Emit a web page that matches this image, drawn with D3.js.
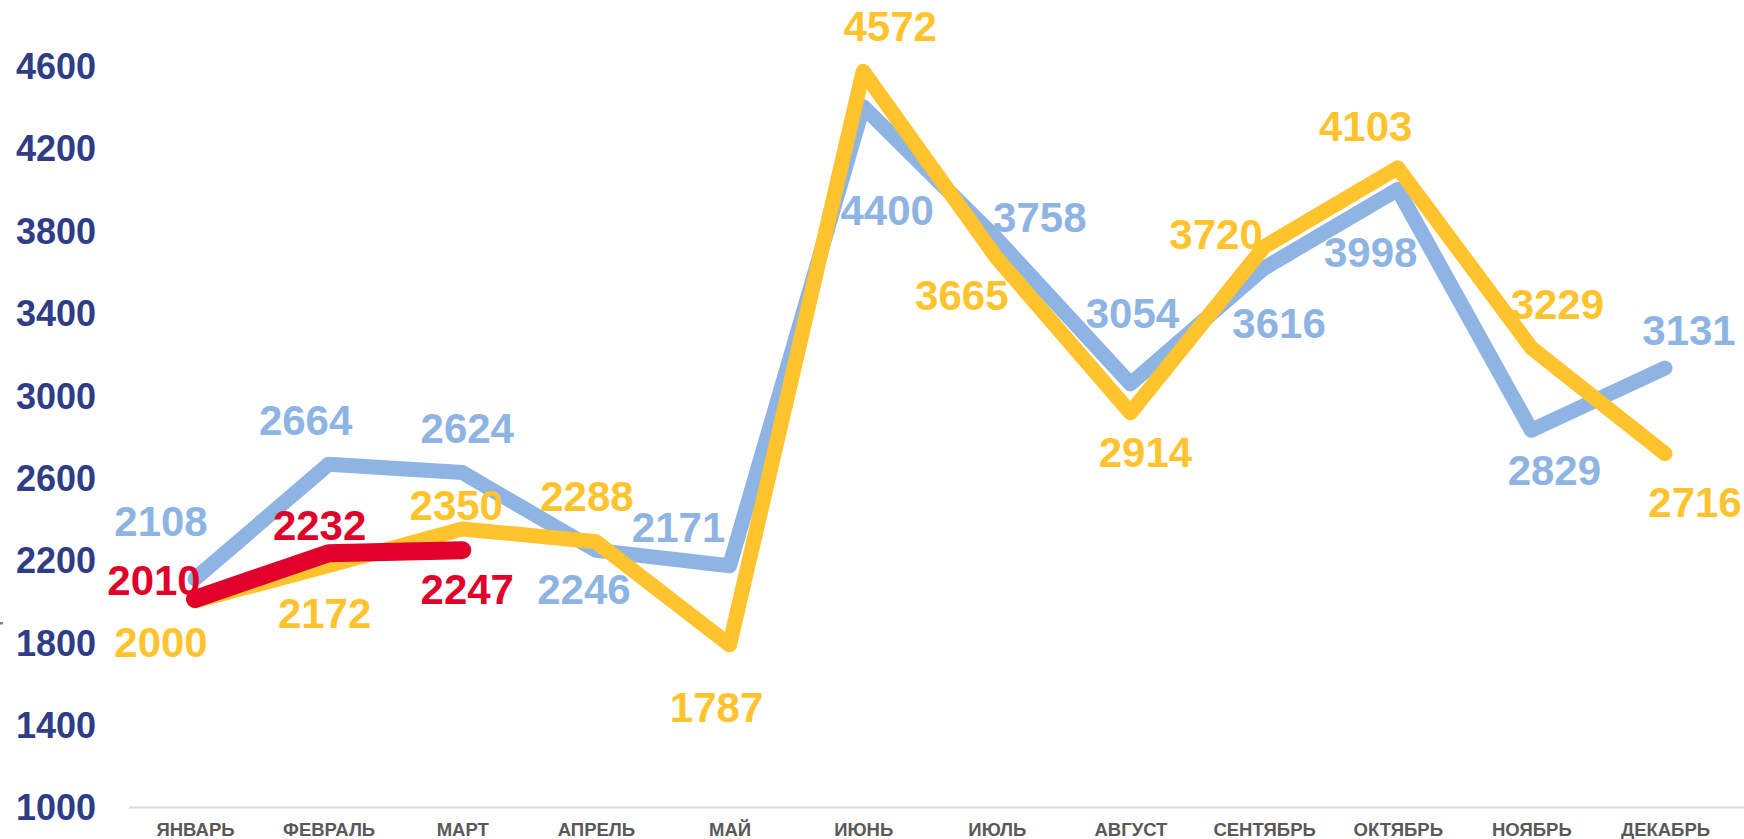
<!DOCTYPE html>
<html>
<head>
<meta charset="utf-8">
<script src="https://cdn.jsdelivr.net/npm/d3@7"></script>
<style>
  body { margin: 0; background: #fff; }
  svg { display: block; font-family: "Liberation Sans", Arial, sans-serif; font-weight: bold; }
</style>
</head>
<body>
<svg id="chart" width="1744" height="839"></svg>
<script>
// Data
const months = ["ЯНВАРЬ", "ФЕВРАЛЬ", "МАРТ", "АПРЕЛЬ", "МАЙ", "ИЮНЬ", "ИЮЛЬ", "АВГУСТ", "СЕНТЯБРЬ", "ОКТЯБРЬ", "НОЯБРЬ", "ДЕКАБРЬ"];
const blueValues = [2108, 2664, 2624, 2246, 2171, 4400, 3758, 3054, 3616, 3998, 2829, 3131];
const yellowValues = [2000, 2172, 2350, 2288, 1787, 4572, 3665, 2914, 3720, 4103, 3229, 2716];
const redValues = [2010, 2232, 2247];
const yTicks = [1000, 1400, 1800, 2200, 2600, 3000, 3400, 3800, 4200, 4600];

// Label offsets (px) from each point
const blueOffsets = [[-34, -58], [-23, -44], [5, -45], [-12, 39], [-51, -39], [24, 103], [43, -22], [2, -71], [15, 55], [-27, 62], [23, 40], [24, -38]];
const yellowOffsets = [[-34, 41], [-4, 47], [-6, -24], [-9, -46], [-13, 62], [27, -45], [-35, 37], [15, 39], [-48, -13], [-32, -42], [26, -44], [30, 48]];
const redOffsets = [[-41, -19], [-9, -28], [5, 39]];

const svg = d3.select("#chart");

// Scales
const x = d3.scalePoint().domain(months).range([195, 1665]);
const y = d3.scaleLinear().domain([1000, 4600]).range([807, 65.5]);

// Y axis
const yAxis = svg.append("g")
  .attr("transform", "translate(96,0)")
  .call(d3.axisLeft(y).tickValues(yTicks).tickSize(0).tickPadding(0).tickFormat(d3.format("d")));
yAxis.select(".domain").remove();
yAxis.selectAll("text")
  .style("font-size", "36px")
  .style("font-weight", "bold")
  .style("font-family", "Liberation Sans, Arial, sans-serif")
  .attr("fill", "#2E3D86")
  .attr("dy", "0.36em");

// X axis
svg.append("line")
  .attr("x1", 129).attr("x2", 1744)
  .attr("y1", 807.5).attr("y2", 807.5)
  .attr("stroke", "#D9D9D9")
  .attr("stroke-width", 2);

const xAxis = svg.append("g")
  .attr("transform", "translate(0,807)")
  .call(d3.axisBottom(x).tickSize(0).tickPadding(16));
xAxis.select(".domain").remove();
xAxis.selectAll("text")
  .style("font-size", "18.5px")
  .style("font-weight", "bold")
  .style("font-family", "Liberation Sans, Arial, sans-serif")
  .attr("fill", "#595959");

// small clipped mark at left edge
svg.append("rect")
  .attr("x", 0).attr("y", 622)
  .attr("width", 3).attr("height", 2.5)
  .attr("fill", "#7f7f7f");

// Lines
const line = d3.line()
  .x((d, i) => x(months[i]))
  .y(d => y(d));

const drawSeries = (values, color, width) => {
  svg.append("path")
    .datum(values)
    .attr("d", line)
    .attr("fill", "none")
    .attr("stroke", color)
    .attr("stroke-width", width)
    .attr("stroke-linecap", "round")
    .attr("stroke-linejoin", "round");
};

const drawLabels = (values, color, offsets) => {
  svg.append("g")
    .selectAll("text")
    .data(values)
    .join("text")
    .attr("x", (d, i) => x(months[i]) + offsets[i][0])
    .attr("y", (d, i) => y(d) + offsets[i][1])
    .attr("dy", "0.36em")
    .attr("text-anchor", "middle")
    .style("font-size", "42px")
    .attr("fill", color)
    .text(d => d);
};

drawSeries(blueValues, "#8EB4E3", 15);
drawSeries(yellowValues, "#FFC32E", 15);
drawSeries(redValues, "#E0002A", 18);

drawLabels(blueValues, "#8EB4E3", blueOffsets);
drawLabels(yellowValues, "#FFC32E", yellowOffsets);
drawLabels(redValues, "#E0002A", redOffsets);
</script>
</body>
</html>
